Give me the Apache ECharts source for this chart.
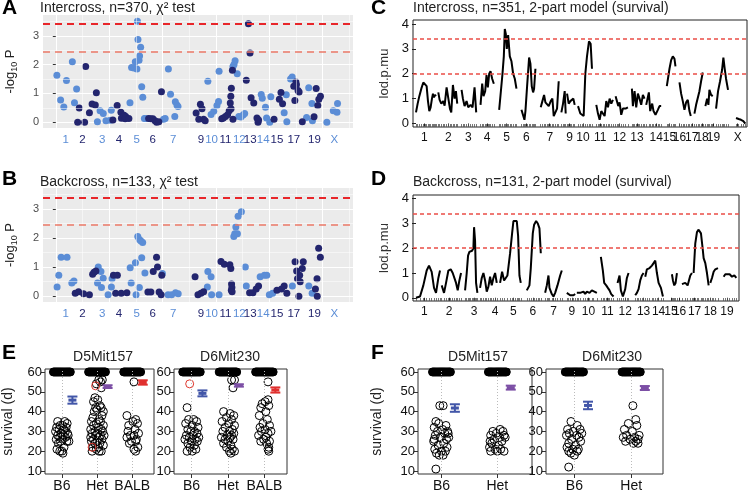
<!DOCTYPE html>
<html>
<head>
<meta charset="utf-8">
<script src="https://cdn.jsdelivr.net/npm/echarts@6/dist/echarts.min.js"></script>
<style>
  html, body { margin: 0; padding: 0; background: #fff; }
  #main { width: 749px; height: 493px; }
</style>
</head>
<body>
<div id="main"></div>
<script>
// ---- A / B : chi-square scans (x = genome position, Mb) ----
const chrLabels = ['1','2','3','4','5','6','7','9','10','11','12','13','14','15','17','19','X'];
const chrLabelPos = [92,250,435,592,758,907,1100,1360,1460,1590,1720,1822,1943,2072,2230,2424,2610];
const darkChr = ['2','4','6','9','11','13','15','17','19'];
const gridBreaks = [0,500,1000,1500,2000,2500];
const minorBreaks = [250,750,1250,1750,2250,2750];

const lightA = [[10,1.63],[45,0.77],[75,0.53],[100,1.45],[155,2.1],[175,0.68],[195,1.15],
  [390,0.02],[415,0.4],[445,0.3],[470,0.05],[510,0.07],[520,0.42],
  [695,0.68],[710,1.9],[730,1.88],[745,2.1],[760,1.85],[765,3.5],[770,2.87],[780,2.15],[785,2.3],[795,2.6],[805,1.23],[815,0.87],[830,0.13],[840,0.13],
  [1010,0.1],[1025,0.13],[1055,1.85],[1075,0.97],[1115,0.2],[1120,0.71],[1135,0.6],[1145,0.55],
  [1425,1.42],[1455,0.27],[1480,0.38],[1510,0.58],[1525,0.72],[1530,1.77],
  [1660,1.93],[1670,2.0],[1680,2.13],[1700,1.68],[1715,0.2],[1735,0.18],[1755,0.25],[1770,0.3],
  [1925,0.96],[1935,0.83],[1965,0.52],[1975,0.15],[2005,0.0],[2015,0.88],
  [2140,0.33],[2165,0.02],[2160,0.95],[2200,1.5],[2215,1.57],
  [2350,0.16],[2370,1.2],[2400,0.65],[2405,0.05],
  [2540,0.0],[2600,0.4],[2635,0.35],[2640,0.65]];
const darkA = [[205,0.0],[220,0.49],[270,0.0],[280,1.93],[315,0.33],[340,0.63],[370,0.6],[380,1.02],
  [535,0.08],[575,0.58],[610,0.35],[615,0.14],[640,0.24],[650,0.12],[655,0.2],[685,0.13],
  [870,0.13],[890,0.12],[910,0.12],[930,0.05],[945,0.0],[965,0.02],[990,1.06],
  [1315,0.32],[1340,0.1],[1355,0.62],[1370,0.47],[1385,0.1],[1400,0.05],
  [1555,0.12],[1570,0.15],[1590,0.2],[1610,0.26],[1625,0.4],[1635,0.67],[1640,0.9],[1645,1.18],[1655,1.8],[1660,0.1],[1642,0.47],
  [1785,1.46],[1805,3.42],[1820,2.4],[1830,0.85],[1855,0.67],[1885,0.15],[1895,0.0],[1900,0.08],
  [2045,0.1],[2095,0.8],[2110,1.03],[2125,0.64],
  [2230,1.25],[2240,0.75],[2250,1.4],[2255,1.3],[2270,1.1],[2280,1.05],[2310,0.02],
  [2420,0.19],[2440,1.17],[2455,0.58],[2465,0.8],[2480,0.9]];

const lightB = [[12,0.32],[28,0.72],[50,1.34],[105,1.34],[150,0.45],[170,0.52],
  [391,0.45],[398,1.0],[423,0.85],[428,0.3],[444,0.62],[490,0.05],[521,0.32],[527,0.6],
  [697,0.98],[706,0.45],[746,1.15],[752,0.05],[768,2.05],[783,1.95],[783,0.3],[798,1.9],[805,1.32],[814,1.85],[835,0.8],
  [999,0.78],[1052,0.05],[1085,0.05],[1122,0.12],[1147,0.08],
  [1420,0.32],[1425,0.85],[1455,0.67],[1460,0.05],[1530,0.05],
  [1668,2.05],[1677,2.15],[1687,2.38],[1702,2.15],[1708,2.75],[1739,2.9],[1776,1.0],[1785,0.35],
  [1915,0.67],[1955,0.72],[1977,0.72],[2001,0.05],[2032,0.1],
  [2217,0.35],[2371,0.35],[2402,0.1]];
const darkB = [[182,0.1],[213,0.15],[260,0.08],[315,0.05],[345,0.75],[358,0.82],[376,0.87],
  [540,0.72],[561,0.1],[577,0.72],[613,0.1],[666,0.12],
  [863,0.14],[891,0.14],[913,0.85],[944,1.34],[953,1.0],[968,0.14],[987,0.05],[993,0.72],
  [1305,0.67],[1332,0.05],[1360,0.1],[1385,0.15],
  [1548,1.19],[1579,1.1],[1631,1.08],[1640,0.95],[1647,0.42],[1650,0.3],[1645,0.2],[1652,0.15],
  [1816,0.12],[1847,0.12],[1878,0.25],[1900,0.35],
  [2072,0.2],[2115,0.25],[2140,0.35],[2165,0.1],
  [2242,1.18],[2257,0.87],[2265,0.6],[2278,0.0],[2285,0.72],[2290,0.5],[2310,0.95],[2319,1.18],
  [2433,0.25],[2448,0.6],[2450,0.0],[2463,1.65],[2479,1.34]];

// ---- C / D : 2-part model LOD curves (x = map position) ----
const chrLabelsC = ['1','2','3','4','5','6','7','9','10','11','12','13','14','15','16','17','18','19','X'];
const chrLabelPosC = [25,97,157,214,272,332,402,462,502,554,612,664,722,762,792,829,860,894,967];
const lodC = [
  [[0,0.45],[5,0.8],[10,1.1],[16,1.4],[22,1.65],[27,1.72],[32,1.5],[36,0.9],[40,0.5],[44,0.65],[48,1.0],[51,1.2],[54,1.05],[57,1.15],[60,1.1]],
  [[67,1.25],[71,0.95],[76,0.8],[82,0.9],[86,0.72],[92,1.45],[97,1.4],[102,0.6],[106,0.45],[111,1.55],[116,1.0],[120,1.3],[124,0.8]],
  [[137,1.35],[141,1.0],[146,0.7],[152,0.9],[157,0.65],[164,0.75],[170,0.65],[176,1.45],[181,0.45]],
  [[194,0.75],[199,1.6],[203,1.1],[208,1.3],[212,1.95],[216,1.45],[220,2.0],[224,2.1],[229,1.8],[234,1.6]],
  [[250,0.55],[254,0.5],[260,2.0],[264,2.7],[267,3.8],[270,3.6],[273,3.0],[277,3.55],[282,2.7],[287,2.5],[292,2.0],[297,1.8],[302,1.4]],
  [[317,0.55],[322,0.5],[326,0.15],[329,0.5],[334,1.5],[340,2.65],[344,2.4],[348,1.5],[352,1.25],[355,1.4],[359,2.2]],
  [[375,0.65],[380,0.9],[385,1.15],[389,0.85],[394,0.8],[399,0.7],[405,0.9],[410,1.0],[414,0.3],[419,0.25],[424,0.6],[429,1.7]],
  [[437,0.45],[442,0.8],[447,1.3],[450,0.4]],
  [[454,1.2],[459,0.8],[464,0.9],[468,0.85],[473,1.0],[477,0.75]],
  [[487,0.7],[494,0.4],[500,0.35],[504,0.3],[509,2.0],[514,2.7],[520,3.3],[525,3.2],[529,2.2]],
  [[542,0.75],[547,0.4],[552,0.15],[557,0.5],[562,0.5],[567,0.3],[572,0.9],[577,0.65],[582,1.0],[587,0.8],[592,0.95]],
  [[600,1.1],[604,0.9],[608,0.7],[612,0.85],[617,0.35],[622,0.6],[630,0.6],[637,0.65]],
  [[649,1.4],[652,0.7],[657,1.3],[662,0.65],[667,1.2],[672,1.0],[677,0.75],[682,1.15],[687,1.0]],
  [[692,0.75],[700,1.25],[704,0.5],[710,0.8],[714,0.5],[720,0.35],[727,0.55],[732,0.7],[737,0.7]],
  [[754,1.5],[758,1.5],[762,2.2],[767,2.55],[772,2.7],[777,2.6],[780,2.3]],
  [[792,1.65],[797,1.2],[802,0.9],[807,0.55],[812,0.85],[817,0.95],[822,0.5],[826,0.3]],
  [[837,0.4],[842,0.75],[847,0.7],[852,1.3],[857,1.7],[862,2.05]],
  [[870,0.7],[875,1.0],[879,0.75],[882,1.35],[887,1.15],[892,1.1]],
  [[902,0.6],[908,1.3],[914,1.7],[920,2.15],[924,2.65],[928,2.2],[932,1.8],[938,1.35]],
  [[962,0.22],[970,0.18],[977,0.15],[984,0.1],[990,0.0]]
];
const chrLabelsD = ['1','2','3','4','5','6','7','9','10','11','12','13','14','15','16','17','18','19'];
const chrLabelPosD = [25,99,174,237,292,350,412,467,517,574,627,682,727,764,790,835,882,932];
const lodD = [
  [[0,0.0],[12,0.05],[22,0.5],[32,1.1],[39,1.3],[47,1.05],[54,0.4],[60,0.2],[67,0.8],[72,1.1]],
  [[77,0.5],[84,0.2],[90,0.6],[97,1.1],[104,1.15],[110,1.0],[115,0.95],[120,0.6],[125,0.3],[130,0.7],[135,1.0]],
  [[147,0.3],[152,1.0],[156,1.7],[160,1.85],[164,1.8],[168,1.9],[172,2.0],[174,2.85],[177,2.3],[180,0.6],[184,0.2]],
  [[192,0.4],[197,0.8],[202,1.0],[207,0.7],[212,0.25],[217,0.45],[222,0.85],[227,0.5],[232,0.8],[237,1.0],[242,0.6]],
  [[252,0.6],[258,1.05],[264,0.7],[274,0.9],[282,1.8],[288,2.6],[292,3.1],[297,3.15],[302,3.1],[306,2.5],[310,0.9],[314,0.6]],
  [[332,0.3],[340,0.5],[344,1.2],[350,2.6],[354,2.95],[360,3.1],[365,3.0],[370,2.8],[374,1.8]],
  [[387,0.2],[392,0.5],[397,0.9],[400,0.4],[407,0.15],[412,0.05],[417,0.2],[424,0.5],[432,0.9],[437,1.1]],
  [[452,0.2],[457,0.25],[462,0.1],[467,0.05],[472,0.1],[477,0.15]],
  [[482,0.2],[487,0.15],[492,0.2],[502,0.25],[507,0.15],[512,0.25],[520,0.2],[527,0.3],[532,0.25],[542,0.2]],
  [[554,1.65],[560,1.1],[564,0.6],[570,0.5],[575,0.4],[580,0.3],[585,0.15],[592,0.05]],
  [[604,0.6],[610,0.9],[614,0.3],[620,0.05],[627,0.35],[632,0.8],[637,1.0]],
  [[657,0.1],[662,0.2],[667,0.35],[672,0.7],[677,0.9],[682,1.0]],
  [[687,0.85],[692,1.15],[700,1.2],[707,1.3],[712,1.25],[717,1.5],[722,1.0],[727,0.6],[734,0.4],[740,0.05]],
  [[767,0.95],[770,0.7],[774,0.5],[778,0.6],[782,1.0]],
  [[797,0.55],[807,0.6],[814,0.5],[822,0.9],[827,1.0]],
  [[832,1.0],[837,2.2],[842,2.65],[847,2.75],[854,2.6],[859,2.0],[862,1.6],[867,1.4],[872,1.0],[877,0.5]],
  [[882,0.6],[887,0.8],[892,1.05],[897,1.15],[905,1.2]],
  [[922,0.85],[927,0.95],[932,0.9],[940,0.95],[947,0.85],[954,0.9],[960,0.8]]
];

// ---- E / F : survival by genotype, [jitter, days] ----
const genoE = ['B6','Het','BALB'];
const genoF = ['B6','Het'];
const blobE = [-0.24,-0.21,-0.18,-0.15,-0.12,-0.09,-0.06,-0.03,0,0.03,0.06,0.09,0.12,0.15,0.18,0.21,0.24];
const blobF = [-0.16,-0.14,-0.12,-0.1,-0.08,-0.06,-0.04,-0.02,0,0.02,0.04,0.06,0.08,0.1,0.12,0.14,0.16];

const e1B6 = [[-0.12,35],[0.08,35],[0.15,34],[-0.05,33],[0.02,33],[-0.15,32],[0.12,32],[-0.08,31],[0.05,31],[-0.18,30],[0.1,30],[-0.02,29],[0.16,29],[-0.12,28],[0.04,28],[0.18,28],[-0.06,27],[0.1,27],[-0.16,26],[0.02,26],[0.14,25],[-0.04,25],[0.2,25],[-0.1,24],[0.06,22],[-0.14,21],[0,20],[-0.06,20],[0.03,19]];
const e1Het = [[0.05,56],[0.15,56],[0.1,55],[-0.02,54],[0.12,52],[-0.06,47],[0.02,46],[-0.1,45],[0.08,43],[-0.04,42],[0.12,42],[0,41],[0.18,40],[-0.08,40],[0.14,38],[-0.12,37],[0.06,36],[-0.16,35],[0.1,35],[-0.02,34],[0.18,33],[-0.1,33],[0.04,32],[-0.18,31],[0.12,31],[-0.06,30],[0.16,30],[0.02,29],[-0.14,29],[0.1,28],[-0.04,28],[0.2,28],[-0.18,27],[0.06,27],[-0.1,26],[0.14,26],[0,25],[-0.16,25],[0.08,24],[-0.06,24],[0.18,23],[-0.12,22],[0.04,22],[-0.02,21],[0.12,20],[-0.14,20],[0.06,20]];
const e1HetRed = [[-0.04,53],[-0.14,22]];
const e1Balb = [[0.05,55],[-0.15,38],[0.1,36],[0.02,35],[0.15,34],[-0.1,33],[0.08,31],[-0.12,30],[0.18,29],[-0.05,28],[0.05,28],[-0.15,27],[0.12,26],[-0.02,25],[0.1,25],[-0.08,24],[0.16,22],[0.05,21],[0.1,20]];
const e2B6 = [[-0.12,42],[0.06,36],[-0.08,36],[0.14,35],[-0.16,34],[0.02,33],[0.18,32],[-0.1,31],[0.08,30],[-0.02,30],[0.15,29],[-0.14,28],[0.04,28],[0.2,27],[-0.06,27],[0.1,26],[-0.18,26],[0,25],[0.16,25],[-0.1,24],[0.08,23],[-0.04,22],[0.12,21],[-0.12,20],[0.02,20]];
const e2B6Red = [[-0.05,54]];
const e2Het = [[0.1,56],[0.18,56],[0.14,52],[-0.12,40],[0.06,39],[0.16,38],[-0.04,37],[0.1,36],[-0.16,35],[0.02,34],[0.18,33],[-0.08,32],[0.12,31],[-0.14,30],[0.04,30],[0.16,29],[-0.02,28],[0.1,28],[-0.18,27],[0.06,27],[-0.08,26],[0.14,26],[0,25],[-0.12,24],[0.08,23],[-0.04,22],[0.12,21],[0.04,20],[0.18,20],[0.08,19]];
const e2Balb = [[0.1,55],[0.1,46],[0.02,45],[-0.06,44],[0.12,43],[-0.1,42],[0.04,40],[-0.14,38],[0.08,36],[-0.04,34],[0.14,33],[-0.12,32],[0.02,31],[0.18,30],[-0.08,30],[0.1,29],[-0.16,28],[0.04,27],[-0.02,26],[0.14,25],[-0.1,25],[0.06,24],[0.12,22],[0.1,21],[0.12,20]];
const f1B6 = [[-0.03,43],[0.03,43],[-0.1,35],[-0.05,34],[0.08,33],[-0.13,32],[0.02,31],[0.11,30],[-0.07,30],[0.06,29],[-0.11,28],[0.13,27],[-0.02,27],[0.09,26],[-0.14,25],[0.04,24],[-0.06,23],[0.1,22],[-0.12,21],[0,20],[0.07,20],[-0.09,19],[0.03,18],[-0.04,18],[-0.1,11],[0.12,29],[-0.13,26]];
const f1Het = [[0.05,31],[-0.08,30],[0.1,30],[-0.02,29],[0.12,28],[-0.12,28],[0.04,27],[-0.06,26],[0.08,25],[-0.1,24],[0.02,23],[-0.14,22],[0.06,21],[-0.04,21],[0,20],[-0.12,20],[0.12,20],[0.14,27],[-0.13,25]];
const f2B6 = [[-0.06,35],[0.05,33],[-0.12,31],[0.1,31],[-0.02,30],[0.13,29],[-0.09,29],[0.04,28],[-0.14,28],[0.08,27],[-0.05,26],[0.11,25],[-0.1,24],[0.02,23],[-0.13,22],[0.07,21],[-0.03,21],[-0.1,20],[0.05,20],[-0.06,19],[0,18],[-0.1,12]];
const f2Het = [[0.03,43],[0.08,36],[-0.05,34],[0.1,33],[-0.12,31],[0.02,30],[0.14,28],[-0.08,28],[0.06,27],[-0.14,27],[0.12,26],[-0.02,26],[0.08,25],[-0.1,25],[0.04,24],[0.12,24]];

const meanE1 = [45.8, 52.6, 54.7], seE1 = [1.8, 0.7, 1.1];
const meanE2 = [49.2, 53.2, 50.9], seE2 = [1.5, 0.6, 1.3];
const meanF1 = [41.8, 52.1], seF1 = [1.9, 1.0];
const meanF2 = [43.1, 51.9], seF2 = [1.9, 1.0];

// ---- styling ----
const FONT = 'Liberation Sans, Arial, sans-serif';
const LIGHT = '#5b8dd6', DARK = '#23256e';
const barColors = ['#4256a8', '#7c4fa5', '#e0302e'];

const chart = echarts.init(document.getElementById('main'));

const grids = [
  {left: 39, top: 15, width: 314, height: 113, show: true, backgroundColor: '#ebebeb', borderWidth: 0},   // A
  {left: 39, top: 188, width: 314, height: 114, show: true, backgroundColor: '#ebebeb', borderWidth: 0},  // B
  {left: 413, top: 20, width: 334, height: 107, show: true, borderColor: '#222', borderWidth: 1},       // C
  {left: 413, top: 195, width: 326, height: 106, show: true, borderColor: '#222', borderWidth: 1},      // D
  {left: 43, top: 369, width: 111, height: 106, show: true, borderColor: '#333', borderWidth: 1},       // E1
  {left: 174, top: 369, width: 113, height: 106, show: true, borderColor: '#333', borderWidth: 1},      // E2
  {left: 418, top: 369, width: 114, height: 106, show: true, borderColor: '#333', borderWidth: 1},      // F1
  {left: 546, top: 369, width: 117, height: 106, show: true, borderColor: '#333', borderWidth: 1}       // F2
];

const xAxes = [], yAxes = [], series = [];
const rugAxes = [];

function chrColor(v) {
  const name = chrLabels[chrLabelPos.indexOf(Number(v))];
  return darkChr.indexOf(name) >= 0 ? DARK : LIGHT;
}

// A and B
[0, 1].forEach(gi => {
  xAxes.push({
    gridIndex: gi, type: 'value', min: -120, max: 2785,
    axisLine: {show: false},
    axisTick: {show: false, customValues: gridBreaks},
    splitLine: {show: true, lineStyle: {color: '#fff', width: 1}},
    axisLabel: {
      customValues: chrLabelPos, fontSize: 11.5, fontFamily: FONT, margin: 6,
      formatter: v => chrLabels[chrLabelPos.indexOf(Number(v))],
      color: v => chrColor(v)
    }
  });
  yAxes.push({
    gridIndex: gi, type: 'value', min: -0.2, max: 3.72,
    name: '-log{s|10} P', nameLocation: 'middle', nameGap: 24,
    nameTextStyle: {fontSize: 13, color: '#222', fontFamily: FONT, lineHeight: 18,
      rich: {s: {fontSize: 9, lineHeight: 9, verticalAlign: 'bottom', color: '#222', fontFamily: FONT}}},
    axisLine: {show: false},
    axisTick: {show: true, customValues: [0,1,2,3], length: 3, lineStyle: {color: '#333'}},
    splitLine: {show: true, lineStyle: {color: '#fff', width: 1}},
    axisLabel: {customValues: [0,1,2,3], fontSize: 11, color: '#4d4d4d', fontFamily: FONT, margin: 4}
  });
  series.push({
    type: 'line', xAxisIndex: gi, yAxisIndex: gi, data: [], z: 1, silent: true,
    markLine: {
      silent: true, symbol: 'none', label: {show: false}, animation: false,
      emphasis: {disabled: true},
      data: [
        ...minorBreaks.map(v => ({xAxis: v, lineStyle: {color: '#fff', width: 0.5, type: 'solid'}})),
        ...[0.5,1.5,2.5,3.5].map(v => ({yAxis: v, lineStyle: {color: '#fff', width: 0.5, type: 'solid'}})),
        {yAxis: 3.4, lineStyle: {color: '#e8262a', width: 2, type: [7, 5], opacity: 1}},
        {yAxis: 2.45, lineStyle: {color: '#ec7a68', width: 1.6, type: [7, 5], opacity: 1}}
      ]
    }
  });
});
[[lightA, darkA, 0], [lightB, darkB, 1]].forEach(([lt, dk, gi]) => {
  series.push({type: 'scatter', xAxisIndex: gi, yAxisIndex: gi, data: lt, symbolSize: 7, z: 3,
    itemStyle: {color: LIGHT, opacity: 1}});
  series.push({type: 'scatter', xAxisIndex: gi, yAxisIndex: gi, data: dk, symbolSize: 7, z: 3,
    itemStyle: {color: DARK, opacity: 1}});
});

// C and D
[[2, lodC, chrLabelsC, chrLabelPosC, 995, -0.14, 4.16], [3, lodD, chrLabelsD, chrLabelPosD, 968, -0.13, 4.15]]
.forEach(([gi, segs, labs, pos, xmax, ymin, ymax]) => {
  xAxes.push({
    gridIndex: gi, type: 'value', min: -9, max: xmax,
    axisLine: {show: false}, splitLine: {show: false},
    axisTick: {show: true, customValues: pos, length: 3, lineStyle: {color: '#222'}},
    axisLabel: {customValues: pos, fontSize: 12, color: '#111', fontFamily: FONT, margin: 5,
      formatter: v => labs[pos.indexOf(Number(v))]}
  });
  // marker rug along the bottom edge, at the scanned positions
  const rug = [].concat(...segs.map(s => s.map(p => p[0])));
  rugAxes.push({
    gridIndex: gi, type: 'value', min: -9, max: xmax, position: 'bottom',
    axisLine: {show: false}, splitLine: {show: false}, axisLabel: {show: false},
    axisTick: {show: true, inside: true, customValues: rug, length: 3, lineStyle: {color: '#555', width: 0.8}}
  });
  yAxes.push({
    gridIndex: gi, type: 'value', min: ymin, max: ymax,
    name: 'lod.p.mu', nameLocation: 'middle', nameGap: 22,
    nameTextStyle: {fontSize: 13, color: '#333', fontFamily: FONT},
    axisLine: {show: false}, splitLine: {show: false},
    axisTick: {show: true, customValues: [0,1,2,3,4], length: 4, lineStyle: {color: '#222'}},
    axisLabel: {customValues: [0,1,2,3,4], fontSize: 13, color: '#111', fontFamily: FONT, margin: 4}
  });
  series.push({
    type: 'line', xAxisIndex: gi, yAxisIndex: gi, data: [], z: 4, silent: true,
    markLine: {silent: true, symbol: 'none', label: {show: false}, animation: false,
      emphasis: {disabled: true},
      data: [
        {yAxis: 3.4, lineStyle: {color: '#ea4d47', width: 1.5, type: [4, 3], opacity: 1}},
        {yAxis: 2.0, lineStyle: {color: '#ea4d47', width: 1.5, type: [4, 3], opacity: 1}}
      ]}
  });
  segs.forEach(seg => {
    series.push({type: 'line', xAxisIndex: gi, yAxisIndex: gi, data: seg, showSymbol: false, z: 3,
      lineStyle: {color: '#000', width: 2}, silent: true});
  });
});

// E and F
function errSeries(gi, means, ses, off) {
  return {
    type: 'custom', xAxisIndex: gi, yAxisIndex: gi, z: 5, silent: true,
    data: means.map((m, i) => [i + 1 + off, m, ses[i], i]),
    renderItem: (params, api) => {
      const x = api.value(0), m = api.value(1), s = api.value(2);
      const c = barColors[api.value(3)];
      const t = api.coord([x, m + s]), b = api.coord([x, m - s]), mid = api.coord([x, m]);
      const st = {stroke: c, lineWidth: 2};
      return {type: 'group', children: [
        {type: 'line', shape: {x1: t[0], y1: t[1], x2: b[0], y2: b[1]}, style: st},
        {type: 'line', shape: {x1: t[0] - 5, y1: t[1], x2: t[0] + 5, y2: t[1]}, style: st},
        {type: 'line', shape: {x1: b[0] - 5, y1: b[1], x2: b[0] + 5, y2: b[1]}, style: st},
        {type: 'line', shape: {x1: mid[0] - 4, y1: mid[1], x2: mid[0] + 4, y2: mid[1]}, style: {stroke: c, lineWidth: 3}}
      ]};
    }
  };
}
function ring(gi, pts, cat, color, fill) {
  return {type: 'scatter', xAxisIndex: gi, yAxisIndex: gi, z: 3, silent: true, symbolSize: 8,
    data: pts.map(p => [cat + p[0], p[1]]),
    itemStyle: {color: fill || 'rgba(255,255,255,0)', borderColor: color, borderWidth: 1, opacity: 1}};
}
const survPanels = [
  {gi: 4, cats: genoE, xr: [0.52, 3.62], blob: blobE, off: 0.3, name: true,
   groups: [[e1B6], [e1Het, e1HetRed], [e1Balb]], means: meanE1, ses: seE1},
  {gi: 5, cats: genoE, xr: [0.52, 3.62], blob: blobE, off: 0.3, name: false,
   groups: [[e2B6, e2B6Red], [e2Het], [e2Balb]], means: meanE2, ses: seE2},
  {gi: 6, cats: genoF, xr: [0.58, 2.62], blob: blobF, off: 0.24, name: true,
   groups: [[f1B6], [f1Het]], means: meanF1, ses: seF1},
  {gi: 7, cats: genoF, xr: [0.5, 2.56], blob: blobF, off: 0.24, name: false,
   groups: [[f2B6], [f2Het]], means: meanF2, ses: seF2}
];
survPanels.forEach(p => {
  const ticks = p.cats.map((c, i) => i + 1);
  xAxes.push({
    gridIndex: p.gi, type: 'value', min: p.xr[0], max: p.xr[1],
    axisLine: {show: false}, splitLine: {show: false},
    axisTick: {show: true, customValues: ticks, length: 4, lineStyle: {color: '#333'}},
    axisLabel: {customValues: ticks, fontSize: 14, color: '#111', fontFamily: FONT, margin: 5,
      formatter: v => p.cats[Number(v) - 1]}
  });
  yAxes.push({
    gridIndex: p.gi, type: 'value', min: 8.5, max: 61.5,
    name: p.name ? 'survival (d)' : '', nameLocation: 'middle', nameGap: p.gi === 4 ? 30 : 34,
    nameTextStyle: {fontSize: 14, color: '#222', fontFamily: FONT},
    axisLine: {show: false}, splitLine: {show: false},
    axisTick: {show: true, customValues: [10,20,30,40,50,60], length: 4, lineStyle: {color: '#333'}},
    axisLabel: {customValues: [10,20,30,40,50,60], fontSize: 13, color: '#111', fontFamily: FONT, margin: 3}
  });
  series.push({
    type: 'line', xAxisIndex: p.gi, yAxisIndex: p.gi, data: [], z: 1, silent: true,
    markLine: {silent: true, symbol: 'none', label: {show: false}, animation: false,
      emphasis: {disabled: true},
      lineStyle: {color: '#bbb', width: 1, type: [1, 2]},
      data: ticks.map(t => ({xAxis: t}))}
  });
  p.groups.forEach((g, i) => {
    series.push(ring(p.gi, p.blob.map(o => [o, 60]), i + 1, '#000', '#000'));
    series.push(ring(p.gi, g[0], i + 1, '#000'));
    if (g[1]) series.push(ring(p.gi, g[1], i + 1, '#e0382e'));
  });
  series.push(errSeries(p.gi, p.means, p.ses, p.off));
});

// free text: panel letters and titles
function txt(text, x, y, size, opts) {
  return {type: 'text', x: x, y: y, silent: true,
    style: Object.assign({text: text, fontSize: size, fontFamily: FONT, fill: '#222',
      textVerticalAlign: 'middle', textAlign: 'left'}, opts || {})};
}
const graphics = [
  txt('A', 2, 8, 21, {fontWeight: 'bold', fill: '#000'}),
  txt('B', 2, 179, 21, {fontWeight: 'bold', fill: '#000'}),
  txt('C', 371, 8, 21, {fontWeight: 'bold', fill: '#000'}),
  txt('D', 371, 179, 21, {fontWeight: 'bold', fill: '#000'}),
  txt('E', 2, 353, 21, {fontWeight: 'bold', fill: '#000'}),
  txt('F', 371, 353, 21, {fontWeight: 'bold', fill: '#000'}),
  txt('Intercross, n=370, \u03c7\u00b2 test', 40, 8, 14),
  txt('Backcross, n=133, \u03c7\u00b2 test', 40, 182, 14),
  txt('Intercross, n=351, 2-part model (survival)', 413, 8, 14),
  txt('Backcross, n=131, 2-part model (survival)', 413, 182, 14),
  txt('D5Mit157', 103, 357, 14, {textAlign: 'center'}),
  txt('D6Mit230', 230, 357, 14, {textAlign: 'center'}),
  txt('D5Mit157', 478, 357, 14, {textAlign: 'center'}),
  txt('D6Mit230', 612, 357, 14, {textAlign: 'center'})
];

chart.setOption({
  animation: false,
  backgroundColor: '#fff',
  textStyle: {fontFamily: FONT},
  grid: grids,
  xAxis: xAxes.concat(rugAxes),
  yAxis: yAxes,
  series: series,
  graphic: graphics
});
</script>
</body>
</html>
